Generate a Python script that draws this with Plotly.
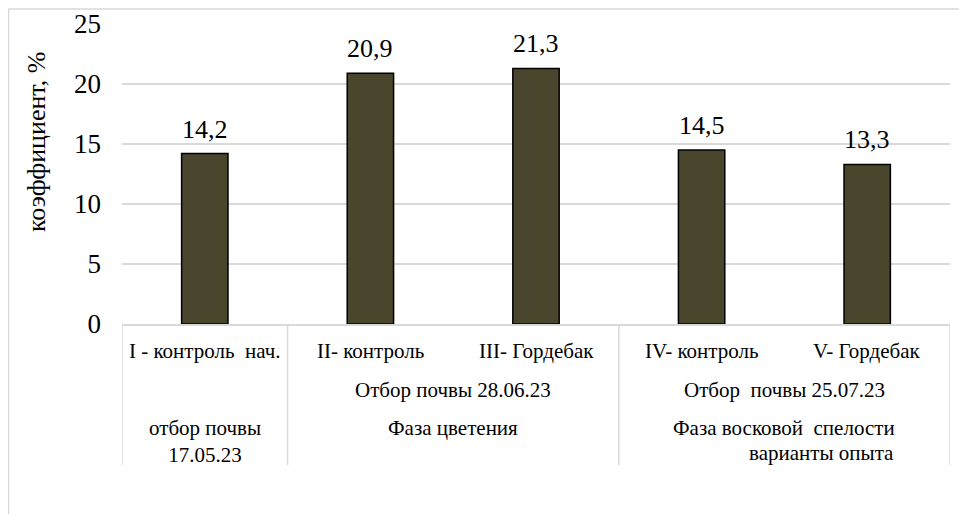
import plotly.graph_objects as go

categories = ["I - контроль  нач.", "II- контроль", "III- Гордебак", "IV- контроль", "V- Гордебак"]
values = [14.2, 20.9, 21.3, 14.5, 13.3]
group_dates = ["", "Отбор почвы 28.06.23", "Отбор  почвы 25.07.23"]
group_phases = ["отбор почвы<br>17.05.23", "Фаза цветения", "Фаза восковой  спелости"]
group_sizes = [1, 2, 2]
y_ticks = [0, 5, 10, 15, 20, 25]
y_title = "коэффициент, %"
x_title = "варианты опыта"

FONT = "Liberation Serif"
OFF = 8  # page body margin
W, H = 951, 506
L = 122 - OFF
T = 24 - OFF
R = W - (950 - OFF)
B = H - (324 - OFF)
PW, PH = W - L - R, H - T - B

def px_x(px):
    return (px - OFF - L) / PW

def px_y(py):
    return 1 - (py - OFF - T) / PH

fig = go.Figure()
fig.add_trace(go.Bar(
    x=list(range(len(categories))), y=values, width=0.28,
    marker=dict(color="#4a452d", line=dict(color="#000000", width=1.5)),
    hoverinfo="skip",
))

ann = []
for i, v in enumerate(values):
    ann.append(dict(x=i, y=v, xref="x", yref="y", text=f"{v:.1f}".replace(".", ","),
                    showarrow=False, yanchor="bottom", yshift=8,
                    font=dict(family=FONT, size=26, color="#000")))
for i, c in enumerate(categories):
    ann.append(dict(x=i, y=px_y(351), xref="x", yref="paper", text=c, showarrow=False,
                    yanchor="middle", font=dict(family=FONT, size=21, color="#000")))
start = 0
seps = [-0.5]
for size, d, ph in zip(group_sizes, group_dates, group_phases):
    center = start + (size - 1) / 2
    if d:
        ann.append(dict(x=center, y=px_y(390), xref="x", yref="paper", text=d, showarrow=False,
                        yanchor="middle", font=dict(family=FONT, size=21, color="#000")))
    two = "<br>" in ph
    ann.append(dict(x=center, y=px_y(428), xref="x", yref="paper", text=ph, showarrow=False,
                    yanchor="top" if two else "middle", yshift=14 if two else 0,
                    font=dict(family=FONT, size=21, color="#000")))
    start += size
    seps.append(start - 0.5)

ann.append(dict(x=3.727, y=px_y(453), xref="x", yref="paper", text=x_title, showarrow=False,
                yanchor="middle", font=dict(family=FONT, size=21, color="#000")))
ann.append(dict(x=px_x(36), y=px_y(142), xref="paper", yref="paper", text=y_title, showarrow=False,
                textangle=-90, xanchor="center", yanchor="middle",
                font=dict(family=FONT, size=26, color="#000")))

shapes = []
for s in seps:
    shapes.append(dict(type="line", xref="x", yref="paper", x0=s, x1=s, y0=0, y1=px_y(465),
                       line=dict(color="#d9d9d9", width=1.5)))
shapes.append(dict(type="line", xref="paper", yref="paper", x0=px_x(8.5), x1=px_x(990),
                   y0=px_y(9), y1=px_y(9), line=dict(color="#d9d9d9", width=1.5)))
shapes.append(dict(type="line", xref="paper", yref="paper", x0=px_x(8.5), x1=px_x(8.5),
                   y0=px_y(9), y1=px_y(560), line=dict(color="#d9d9d9", width=1.5)))

fig.update_layout(
    width=W, height=H, margin=dict(l=L, r=R, t=T, b=B, autoexpand=False),
    plot_bgcolor="white", paper_bgcolor="white", showlegend=False,
    annotations=ann, shapes=shapes,
    xaxis=dict(range=[-0.5, len(categories) - 0.5], showticklabels=False, showgrid=False,
               zeroline=False, showline=True, linecolor="#d9d9d9", linewidth=1.5, fixedrange=True),
    yaxis=dict(range=[0, 25], tickvals=y_ticks, showgrid=True, gridcolor="#d9d9d9", gridwidth=1.5,
               zeroline=False, showline=False, ticklabelstandoff=20,
               tickfont=dict(family=FONT, size=27, color="#000"), fixedrange=True),
)
fig.write_html("out.html")
